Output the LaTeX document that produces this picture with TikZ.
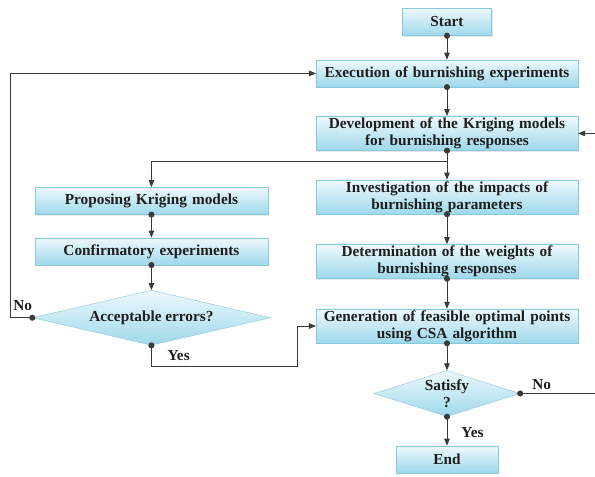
\documentclass[tikz,border=0pt]{standalone}
\usepackage{fontspec}
\setmainfont{Liberation Serif}
\usepackage{xcolor}
\usepackage{tikz}
\usetikzlibrary{arrows.meta,positioning,calc,shapes.geometric,shadows}
\definecolor{ink}{HTML}{3A3A3A}
\definecolor{edge}{HTML}{86C8DE}
\definecolor{topfill}{HTML}{EEF9FD}
\definecolor{botfill}{HTML}{9ED8EB}
\definecolor{txt}{HTML}{1E1E1E}

\begin{document}
\begin{tikzpicture}[
  x=1pt, y=-1pt,
  font=\bfseries\fontsize{15.3}{17}\selectfont,
  box/.style={draw=edge, top color=topfill, bottom color=botfill, align=center, text=txt,
    minimum height=27pt, text width=255pt, inner ysep=1.5pt,
    drop shadow={opacity=0.2, shadow xshift=1.2pt, shadow yshift=-1.2pt}},
  smallbox/.style={box, text width={}, minimum width=#1},
  sidebox/.style={box, text width=226pt},
  decision/.style={diamond, draw=edge, top color=topfill, bottom color=botfill, align=center, text=txt,
    inner xsep=0pt, inner ysep=-5pt},
  arr/.style={{Circle[length=6pt]}-{Triangle[length=7pt,width=5.5pt]}, shorten <=-3pt, thick, draw=ink},
  link/.style={-{Triangle[length=7pt,width=5.5pt]}, thick, draw=ink},
  tail/.style={{Circle[length=6pt]}-, shorten <=-3pt, thick, draw=ink},
  lbl/.style={text=txt, inner sep=0pt}
]
\useasboundingbox (0,0) rectangle (595,477);
\coordinate (rim) at (595,0);
\node[smallbox=89pt] (start) at (447,22) {Start};
\node[box, below=24pt of start] (exe) {Execution of burnishing experiments};
\node[box, below=29pt of exe] (dev) {Development of the Kriging models\\for burnishing responses};
\node[box, below=29pt of dev] (inv) {Investigation of the impacts of\\burnishing parameters};
\node[box, below=30pt of inv] (det) {Determination of the weights of\\burnishing responses};
\node[box, below=30pt of det] (gen) {Generation of feasible optimal points\\using CSA algorithm};
\node[decision, aspect=3, minimum width=146pt, minimum height=46pt, below=27pt of gen] (sat) {Satisfy\\?};
\node[smallbox=102pt, below=29pt of sat] (end) {End};
\node[sidebox, left=48pt of inv, yshift=-4pt] (prop) {Proposing Kriging models};
\node[sidebox, below=23pt of prop] (conf) {Confirmatory experiments};
\node[decision, aspect=4.5, minimum width=238pt, minimum height=55pt, below=25pt of conf] (acc) {Acceptable errors?};
\coordinate (split) at ($(dev.south)+(0,11)$);
\draw[arr] (start) -- (exe);
\draw[arr] (exe) -- (dev);
\draw[arr] (dev) -- (inv);
\draw[link] (split) -| (prop);
\draw[arr] (inv) -- (det);
\draw[arr] (det) -- (gen);
\draw[arr] (gen) -- (sat);
\draw[arr] (sat) -- node[lbl, right=14pt, pos=0.55]{Yes} (end);
\draw[arr] (prop) -- (conf);
\draw[arr] (conf) -- (acc);
\draw[arr] (acc.west) -- ++(-22,0) |- (exe.west);
\draw[arr] (acc.south) |- ++(146,21) |- (gen.west);
\draw[tail] (sat.east) -- (sat.east -| rim);
\draw[link] (dev.east -| rim) -- (dev.east);
\node[lbl, above left=7pt and 0pt of acc.west] (accno) {No};
\node[lbl, below right=5pt and 16pt of acc.south] (accyes) {Yes};
\node[lbl, above right=4pt and 12pt of sat.east] (satno) {No};
\end{tikzpicture}
\end{document}
